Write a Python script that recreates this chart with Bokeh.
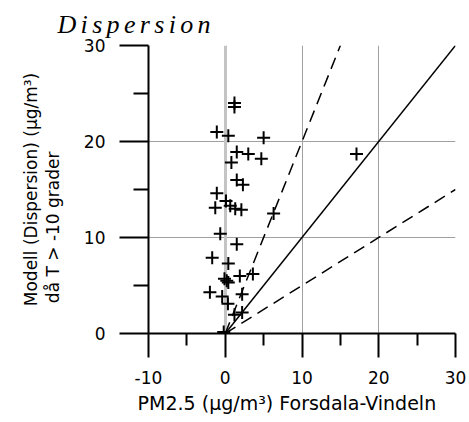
from bokeh.plotting import figure
from bokeh.models import FixedTicker, Range1d, Grid, Title
from bokeh.embed import file_html
from bokeh.resources import INLINE

title_text = "Dispersion"
x_label = "PM2.5 (µg/m³) Forsdala-Vindeln"
y_label_1 = "Modell (Dispersion) (µg/m³)"
y_label_2 = "då T > -10 grader"

x_ticks = [-10, 0, 10, 20, 30]
x_minor = [-5, 5, 15, 25]
x_tick_text = {-10: "-10"}
y_ticks = [0, 10, 20, 30]
y_minor = [5, 15, 25]

obs_x = [-1.1, 0.4, 5.0, 1.5, 3.0, 4.7, 0.8, 1.5, 2.3, -1.1, 0.1, -1.3, 0.65, 1.3,
         2.1, 6.3, 1.2, 1.2, 17.1, -0.65, 1.5, -1.7, 0.4, -0.1, 0.4, 1.9, 3.6, 0.2,
         -2.0, -0.4, 2.2, 0.35, 1.2, 2.2, -0.2]
model_y = [21.0, 20.6, 20.4, 18.9, 18.7, 18.2, 17.8, 16.0, 15.5, 14.6, 13.8, 13.1, 13.3, 13.0,
           12.9, 12.5, 24.0, 23.6, 18.7, 10.4, 9.3, 7.9, 7.3, 5.7, 5.3, 6.0, 6.2, 5.5,
           4.3, 3.85, 4.1, 3.1, 1.95, 2.2, 0.15]

ref_x = [0, 30]
ref_y = [0, 30]
upper_x = [0, 15]
upper_y = [0, 30]
lower_x = [0, 30]
lower_y = [0, 15]

NB = "\u00a0"

p = figure(width=469, height=422, x_range=Range1d(-10, 30), y_range=Range1d(0, 30),
           output_backend="svg", toolbar_location=None,
           min_border_left=148, min_border_right=14, min_border_top=45, min_border_bottom=89)
p.outline_line_color = None
p.background_fill_color = "white"
p.border_fill_color = "white"

p.title = Title(text="\u2006".join(title_text), text_font="Liberation Serif",
                text_font_style="italic", text_font_size="26px", text_color="black",
                align="left", offset=-91, standoff=10, vertical_align="top")

for ax in (p.xaxis, p.yaxis):
    ax.axis_line_width = 2
    ax.axis_line_color = "black"
    ax.major_tick_line_width = 2
    ax.minor_tick_line_width = 2
    ax.major_tick_line_color = "black"
    ax.minor_tick_line_color = "black"
    ax.major_tick_in = 0
    ax.minor_tick_in = 0
    ax.major_label_text_font = "DejaVu Sans"
    ax.major_label_text_font_size = "17px"
    ax.major_label_text_color = "black"
    ax.axis_label_text_font = "DejaVu Sans"
    ax.axis_label_text_font_style = "normal"
    ax.axis_label_text_color = "black"

p.xaxis.ticker = FixedTicker(ticks=x_ticks, minor_ticks=x_minor)
p.xaxis.major_label_overrides = x_tick_text
p.yaxis.ticker = FixedTicker(ticks=y_ticks, minor_ticks=y_minor)
p.xaxis.major_tick_out = 24
p.xaxis.minor_tick_out = 12
p.yaxis.major_tick_out = 29
p.yaxis.minor_tick_out = 15
p.xaxis.major_label_standoff = 13
p.yaxis.major_label_standoff = 14

p.xaxis.axis_label = x_label + NB * 5
p.xaxis.axis_label_text_font_size = "19px"
p.xaxis.axis_label_standoff = 5

p.yaxis.axis_label = y_label_1 + "\n" + y_label_2 + NB * 14
p.yaxis.axis_label_text_font_size = "17px"
p.yaxis.axis_label_text_line_height = 1.1
p.yaxis.axis_label_standoff = 18

p.xgrid.ticker = FixedTicker(ticks=[10, 20])
p.ygrid.ticker = FixedTicker(ticks=[10, 20])
p.xgrid.grid_line_color = "#a0a0a0"
p.ygrid.grid_line_color = "#a0a0a0"
p.xgrid.grid_line_width = 1
p.ygrid.grid_line_width = 1
zero_grid = Grid(dimension=0, ticker=FixedTicker(ticks=[0]),
                 grid_line_color="#c4c4c4", grid_line_width=3)
p.add_layout(zero_grid)

p.line(ref_x, ref_y, line_color="black", line_width=1.5)
p.line(upper_x, upper_y, line_color="black", line_width=1.5, line_dash="12 7")
p.line(lower_x, lower_y, line_color="black", line_width=1.5, line_dash="12 7")
p.scatter(obs_x, model_y, marker="cross", size=13, line_color="black", line_width=2)

open("out.html", "w").write(file_html(p, INLINE))
